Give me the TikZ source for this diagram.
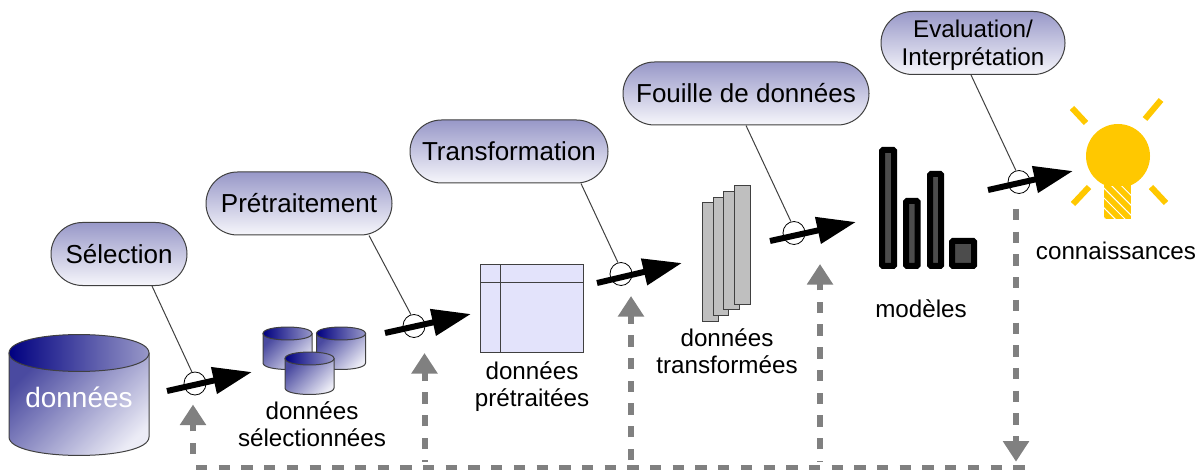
\documentclass[tikz,border=0pt]{standalone}
\usepackage{fontspec}
\setmainfont{Liberation Sans}
\usepackage{xcolor}
\usetikzlibrary{arrows.meta}
\usetikzlibrary{shapes.geometric, shapes.misc}
\usetikzlibrary{patterns.meta}

\definecolor{pilltop}{HTML}{9898C8}
\definecolor{pillbot}{HTML}{F6F6FB}
\definecolor{cyldark}{HTML}{4A4AA0}
\definecolor{cyllight}{HTML}{ECECF6}
\definecolor{cylmid}{HTML}{6464B0}
\definecolor{navy}{HTML}{000080}
\definecolor{tablefill}{HTML}{E3E3FB}
\definecolor{bulb}{HTML}{FFC800}
\definecolor{edgegrey}{HTML}{404040}
\definecolor{feedgrey}{HTML}{808080}

\tikzset{
  pill/.style={rounded rectangle, draw=edgegrey, line width=1pt, top color=pilltop, bottom color=pillbot, minimum height=63pt, inner sep=0pt, align=center, font=\fontsize{26}{29}\selectfont},
  lab/.style={align=center, inner sep=0pt, font=\fontsize{24.2}{27.5}\selectfont},
  ring/.style={ellipse, draw, fill=white, line width=0.8pt, inner sep=0pt, minimum width=22pt, minimum height=23pt},
  leader/.style={edgegrey, line width=1pt},
  flow/.style={line width=6pt, -{Triangle[length=39pt, width=26pt]}},
  feed/.style={feedgrey, line width=6pt, dash pattern=on 11.35pt off 11.35pt},
  feedtip/.style={feed, -{Triangle[length=20.5pt, width=25pt]}},
  stack/.style={draw=edgegrey, fill=black!25, line width=1pt},
  bar/.style={draw=black, fill=black!70, line width=6pt, rounded corners=1pt},
  ray/.style={bulb, line width=6pt},
}

% x y radius-x radius-y bottom
\newcommand{\dbcyl}[5]{
  \shade[draw=edgegrey, line width=1pt, top color=cyldark, bottom color=cyllight, shading angle=45]
    (#1-#3,#2) -- (#1-#3,#5) .. controls (#1-#3,#5+1.33*#4) and (#1+#3,#5+1.33*#4) .. (#1+#3,#5) -- (#1+#3,#2) -- cycle;
  \shade[draw=edgegrey, line width=1pt, left color=navy, middle color=cylmid, right color=pilltop]
    (#1-#3,#2) .. controls (#1-#3,#2+1.33*#4) and (#1+#3,#2+1.33*#4) .. (#1+#3,#2) .. controls (#1+#3,#2-1.33*#4) and (#1-#3,#2-1.33*#4) .. (#1-#3,#2) -- cycle;
}

\begin{document}
\begin{tikzpicture}[x=1pt, y=-1pt]
      \useasboundingbox (0,0) rectangle (1204,470);

      \dbcyl{79}{353}{70}{18.5}{437}
      \node[lab, white, font=\fontsize{28}{30}\selectfont] (donnees) at (79, 397) {données};

      \dbcyl{287.5}{333.5}{24.5}{6.5}{363}
      \dbcyl{341}{333.5}{24.5}{6.5}{363}
      \dbcyl{309.5}{358.5}{24.5}{6.5}{388}
      \node[lab] (selectionnees) at (312, 424) {données\\sélectionnées};

      \draw[draw=edgegrey, line width=1pt, fill=tablefill] (480.5,265) rectangle (583,352);
      \draw[line width=1pt, edgegrey] (480.5,282) -- (583,282);
      \draw[line width=1pt, edgegrey] (500,265) -- (500,352);
      \node[lab] (pretraitees) at (532, 386.5) {données\\prétraitées};

      \draw[stack] (702,203) rectangle (718,321);
      \draw[stack] (713,197.5) rectangle (728.5,315);
      \draw[stack] (723.5,191.5) rectangle (739,309);
      \draw[stack] (734.5,186) rectangle (750,304);
      \node[lab] (transformees) at (727, 351) {données\\transformées};

      \draw[bar] (882,150) rectangle (894,266);
      \draw[bar] (906,201) rectangle (917.5,266);
      \draw[bar] (930,174) rectangle (941,266);
      \draw[bar] (952,241) rectangle (974,266);
      \node[lab] (modeles) at (921, 309) {modèles};

      \fill[bulb] (1118,156) circle (32);
      \fill[bulb] (1104,180) rectangle (1131,219);
      \fill[pattern={Lines[angle=-45, distance=7pt, line width=1pt]}, pattern color=white] (1104,187) rectangle (1131,219);
      \draw[ray] (1072,108) -- (1086,123);
      \draw[ray] (1161,100) -- (1145,119);
      \draw[ray] (1089,187) -- (1073,204);
      \draw[ray] (1151,187) -- (1166,203);
      \node[lab] (connaissances) at (1116, 251) {connaissances};

      \node[pill, minimum width=136pt] (selection) at (119, 254) {Sélection};
      \node[pill, minimum width=186pt] (pretraitement) at (299, 203.5) {Prétraitement};
      \node[pill, minimum width=198pt] (transformation) at (509, 151.5) {Transformation};
      \node[pill, minimum width=246pt] (fouille) at (746, 93.5) {Fouille de données};
      \node[pill, minimum width=184pt, font=\fontsize{24.2}{27.5}\selectfont] (evaluation) at (973, 43) {\rule{0pt}{22pt}Evaluation/\\Interprétation};

      \node[ring] (c1) at (195, 383.5) {};
      \node[ring] (c2) at (414, 326) {};
      \node[ring] (c3) at (621, 274) {};
      \node[ring] (c4) at (794, 233) {};
      \node[ring] (c5) at (1019, 182) {};

      \draw[leader] ([xshift=33pt]selection.south) -- (c1.105);
      \draw[leader] ([xshift=70pt]pretraitement.south) -- (c2.105);
      \draw[leader] ([xshift=72pt]transformation.south) -- (c3.105);
      \draw[leader] (fouille.south) -- (c4.105);
      \draw[leader] ([xshift=-2pt]evaluation.south) -- (c5.105);

      \coordinate (a1) at (167,391);
      \coordinate (b1) at (252,372);
      \coordinate (a2) at (385,333);
      \coordinate (b2) at (471,314);
      \coordinate (a3) at (597,283);
      \coordinate (b3) at (682,263);
      \coordinate (a4) at (770,241);
      \coordinate (b4) at (856,222);
      \coordinate (a5) at (988,190);
      \coordinate (b5) at (1073,171);

      \draw[flow] (a1) -- (b1);
      \draw[flow] (a2) -- (b2);
      \draw[flow] (a3) -- (b3);
      \draw[flow] (a4) -- (b4);
      \draw[flow] (a5) -- (b5);

      \coordinate (f0) at (196,467.5);
      \coordinate (f5) at (1025,467.5);
      \coordinate (u1) at (193,454);
      \coordinate (v1) at (193,404.5);
      \coordinate (u2) at (424.5,461.7);
      \coordinate (v2) at (424.5,353);
      \coordinate (u3) at (631,460);
      \coordinate (v3) at (631,296);
      \coordinate (u4) at (820,461.7);
      \coordinate (v4) at (820,264);
      \coordinate (u5) at (1016,209);
      \coordinate (v5) at (1016,461.7);

      \draw[feed] (f0) -- (f5);
      \draw[feedtip] (u1) -- (v1);
      \draw[feedtip, dash phase=10.1pt] (u2) -- (v2);
      \draw[feedtip] (u3) -- (v3);
      \draw[feedtip, dash phase=10.3pt] (u4) -- (v4);
      \draw[feedtip] (u5) -- (v5);
    \end{tikzpicture}
\end{document}
